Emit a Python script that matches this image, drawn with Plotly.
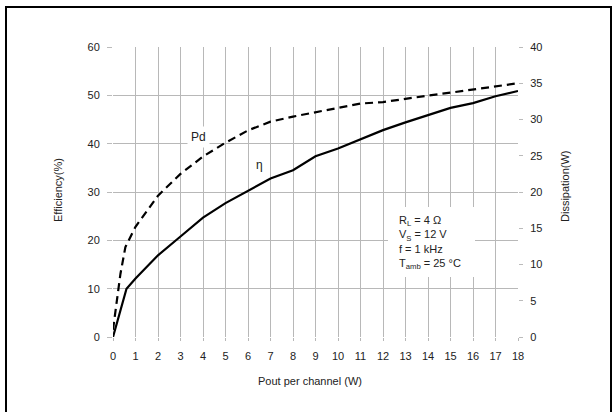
import plotly.graph_objects as go

# Data
pout_eff = [0, 0.6, 1, 2, 3, 4, 5, 6, 7, 8, 9, 10, 11, 12, 13, 14, 15, 16, 17, 18]
efficiency = [0, 10.0, 12.1, 16.9, 20.8, 24.7, 27.7, 30.2, 32.8, 34.5, 37.4, 39.0,
              40.9, 42.8, 44.4, 45.9, 47.4, 48.4, 49.8, 50.9]
pout_diss = [0, 0.33, 0.55, 1, 2, 3, 4, 5, 6, 7, 8, 9, 10, 11, 12, 13, 14, 15, 16, 17, 18]
dissipation = [1.0, 8.7, 12.4, 15.2, 19.5, 22.5, 24.9, 26.8, 28.5, 29.7, 30.4, 31.0,
               31.7, 32.2, 32.4, 32.9, 33.3, 33.7, 34.1, 34.6, 35.0]
x_ticks = list(range(0, 19))
eff_ticks = [0, 10, 20, 30, 40, 50, 60]
diss_ticks = [0, 5, 10, 15, 20, 25, 30, 35, 40]

FONT = "Liberation Sans, Arial, sans-serif"
GRID = "#b8b8b8"

W, H = 614, 412
L, R, T, B = 113, 96, 47, 75
PW, PH = W - L - R, H - T - B

def px(xp):
    return (xp - L) / PW

def py(yp):
    return (H - B - yp) / PH

fig = go.Figure()
fig.add_trace(go.Scatter(x=pout_eff, y=efficiency, mode="lines", name="η",
                         line=dict(color="black", width=2.2), showlegend=False))
fig.add_trace(go.Scatter(x=pout_diss, y=dissipation, mode="lines", name="Pd", yaxis="y2",
                         line=dict(color="black", width=2.2, dash="8px,5px"), showlegend=False))

fig.update_layout(
    width=W, height=H,
    margin=dict(l=L, r=R, t=T, b=B),
    paper_bgcolor="white", plot_bgcolor="white",
    font=dict(family=FONT, size=11, color="#222"),
    xaxis=dict(range=[0, 18], tickvals=x_ticks, showgrid=True, gridcolor=GRID, gridwidth=1,
               zeroline=False, showline=False, ticks="outside", ticklen=3, tickcolor=GRID,
               tickfont=dict(size=11, color="#222"), ticklabelstandoff=6),
    yaxis=dict(range=[0, 60], tickvals=eff_ticks, showgrid=True, gridcolor=GRID, gridwidth=1,
               zeroline=False, showline=False, ticks="outside", ticklen=5, tickcolor="#bbb",
               tickfont=dict(size=11, color="#222"), ticklabelstandoff=5),
    yaxis2=dict(range=[0, 40], tickvals=diss_ticks, overlaying="y", side="right",
                showgrid=False, zeroline=False, showline=False, ticks="outside", ticklen=4,
                tickcolor="#bbb", tickfont=dict(size=11, color="#222"), ticklabelstandoff=5),
)

shapes = [
    # outer black frame
    dict(type="rect", xref="paper", yref="paper", x0=px(6), x1=px(611), y0=py(430), y1=py(7),
         line=dict(color="black", width=2), fillcolor="rgba(0,0,0,0)", layer="above"),
    # white box behind conditions text
    dict(type="rect", xref="paper", yref="paper", x0=px(388), x1=px(475), y0=py(277), y1=py(207),
         line=dict(width=0), fillcolor="white", layer="above"),
]
fig.update_layout(shapes=shapes)

annotations = [
    dict(text="Efficiency(%)", xref="paper", yref="paper", x=px(58), y=py(190), textangle=-90,
         xanchor="center", yanchor="middle", showarrow=False, font=dict(size=11, color="#222")),
    dict(text="Dissipation(W)", xref="paper", yref="paper", x=px(565), y=py(186), textangle=-90,
         xanchor="center", yanchor="middle", showarrow=False, font=dict(size=11, color="#222")),
    dict(text="Pout per channel (W)", xref="paper", yref="paper", x=px(310), y=py(381),
         xanchor="center", yanchor="middle", showarrow=False, font=dict(size=11, color="#222")),
    dict(text="Pd", x=3.8, y=41.3, xref="x", yref="y", showarrow=False, bgcolor="white",
         borderpad=3, font=dict(size=12, color="#222")),
    dict(text="η", x=6.5, y=35.5, xref="x", yref="y", showarrow=False, bgcolor="white",
         borderpad=2, font=dict(size=12, color="#222")),
    dict(text="R<sub>L</sub> = 4 Ω<br>V<sub>S</sub> = 12 V<br>f = 1 kHz<br>T<sub>amb</sub> = 25 °C",
         xref="paper", yref="paper", x=px(397), y=py(212), xanchor="left", yanchor="top",
         align="left", showarrow=False, font=dict(size=11, color="#222")),
]
fig.update_layout(annotations=annotations)

fig.write_html("out.html")
